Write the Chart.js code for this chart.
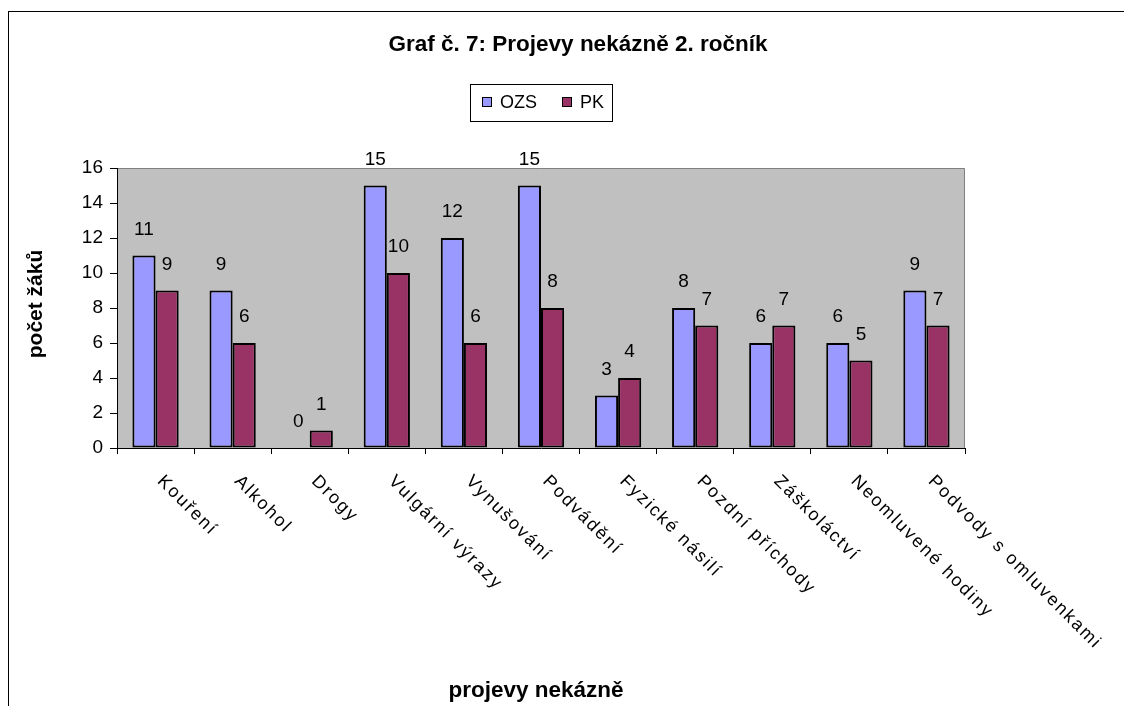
<!DOCTYPE html>
<html>
<head>
    <title>Graf č. 7: Projevy nekázně 2. ročník</title>
    <script src="https://cdn.jsdelivr.net/npm/chart.js"></script>
    <style>
        body {
            margin: 0;
            background: #ffffff;
        }
    </style>
</head>
<body>
    <canvas id="grafico" width="1124" height="706"></canvas>

    <script>
        // Kategorie a hodnoty
        const kategorie = ['Kouření', 'Alkohol', 'Drogy', 'Vulgární výrazy', 'Vynušování', 'Podvádění',
            'Fyzické násilí', 'Pozdní příchody', 'Záškoláctví', 'Neomluvené hodiny', 'Podvody s omluvenkami'];
        const hodnotyOZS = [11, 9, 0, 15, 12, 15, 3, 8, 6, 6, 9];
        const hodnotyPK = [9, 6, 1, 10, 6, 8, 4, 7, 7, 5, 7];
        const nazvySerii = ['OZS', 'PK'];
        const osaYMax = 16;
        const osaYKrok = 2;

        const titulek = 'Graf č. 7: Projevy nekázně 2. ročník';
        const titulekX = 'projevy nekázně';
        const titulekY = 'počet žáků';

        const barvy = ['#9999FF', '#993366'];
        const pismo = "'Liberation Sans', Arial, sans-serif";

        // Šedé pozadí plochy grafu, rámeček a texty kolem
        const pozadiPlugin = {
            id: 'pozadi',
            beforeDraw(chart) {
                const ctx = chart.ctx;
                const a = chart.chartArea;
                ctx.save();
                ctx.fillStyle = '#ffffff';
                ctx.fillRect(0, 0, chart.width, chart.height);
                // vnější rámeček
                ctx.strokeStyle = '#000';
                ctx.lineWidth = 1;
                ctx.strokeRect(8.5, 11.5, 1300, 900);
                ctx.fillStyle = '#C0C0C0';
                ctx.fillRect(a.left, a.top, a.right - a.left, a.bottom - a.top);
                ctx.strokeStyle = '#808080';
                ctx.beginPath();
                ctx.moveTo(a.left, a.top + 0.5);
                ctx.lineTo(a.right - 0.5, a.top + 0.5);
                ctx.lineTo(a.right - 0.5, a.bottom);
                ctx.stroke();
                ctx.restore();
            },
            afterDraw(chart) {
                const ctx = chart.ctx;
                const x = chart.scales.x;
                ctx.save();
                ctx.fillStyle = '#000';

                // titulek
                ctx.font = 'bold 22.5px ' + pismo;
                ctx.textAlign = 'center';
                ctx.textBaseline = 'alphabetic';
                ctx.fillText(titulek, 578, 51);

                // název osy X
                ctx.font = 'bold 22.5px ' + pismo;
                ctx.fillText(titulekX, 536, 697);

                // název osy Y
                ctx.save();
                ctx.translate(42, 304);
                ctx.rotate(-Math.PI / 2);
                ctx.font = 'bold 21px ' + pismo;
                ctx.fillText(titulekY, 0, 0);
                ctx.restore();

                // legenda
                ctx.strokeStyle = '#000';
                ctx.lineWidth = 1;
                ctx.strokeRect(470.5, 84.5, 142, 37);
                const legX = [482, 562];
                ctx.font = '18px ' + pismo;
                ctx.textAlign = 'left';
                chart.data.datasets.forEach((ds, i) => {
                    ctx.fillStyle = ds.backgroundColor;
                    ctx.fillRect(legX[i], 97, 10, 10);
                    ctx.strokeRect(legX[i] + 0.5, 97.5, 9, 9);
                    ctx.fillStyle = '#000';
                    ctx.fillText(ds.label, legX[i] + 18, 108);
                });

                // popisky kategorií otočené o 45°
                ctx.font = '18px ' + pismo;
                ctx.letterSpacing = '2px';
                kategorie.forEach((k, i) => {
                    const px = x.getPixelForTick(i);
                    ctx.save();
                    ctx.translate(px + 1, 482);
                    ctx.rotate(Math.PI / 4);
                    ctx.fillText(k, 0, 0);
                    ctx.restore();
                });
                ctx.restore();
            },
            afterDatasetsDraw(chart) {
                // hodnoty nad sloupci
                const ctx = chart.ctx;
                ctx.save();
                ctx.font = '19px ' + pismo;
                ctx.fillStyle = '#000';
                ctx.textAlign = 'center';
                ctx.textBaseline = 'middle';
                chart.data.datasets.forEach((ds, i) => {
                    chart.getDatasetMeta(i).data.forEach((bar, j) => {
                        ctx.fillText(ds.data[j], bar.x, bar.y - 26);
                    });
                });
                ctx.restore();
            }
        };

        const ctx = document.getElementById('grafico').getContext('2d');
        const grafico = new Chart(ctx, {
            type: 'bar',
            data: {
                labels: kategorie,
                datasets: [{
                    label: nazvySerii[0],
                    data: hodnotyOZS,
                    backgroundColor: barvy[0],
                    borderColor: '#000',
                    borderWidth: 2,
                    borderSkipped: false
                }, {
                    label: nazvySerii[1],
                    data: hodnotyPK,
                    backgroundColor: barvy[1],
                    borderColor: '#000',
                    borderWidth: 2,
                    borderSkipped: false
                }]
            },
            options: {
                responsive: false,
                animation: false,
                layout: {
                    padding: { left: 0, top: 168, right: 159, bottom: 0 }
                },
                datasets: {
                    bar: { categoryPercentage: 0.6, barPercentage: 1.0 }
                },
                plugins: {
                    legend: { display: false },
                    title: { display: false },
                    tooltip: { enabled: false }
                },
                scales: {
                    x: {
                        afterFit(scale) { scale.height = 258; },
                        grid: {
                            offset: true,
                            drawOnChartArea: false,
                            tickLength: 6,
                            color: '#000'
                        },
                        border: { color: '#000' },
                        ticks: { display: false }
                    },
                    y: {
                        min: 0,
                        max: osaYMax,
                        afterFit(scale) { scale.width = 117; },
                        grid: {
                            drawOnChartArea: false,
                            tickLength: 7,
                            color: '#000'
                        },
                        border: { color: '#000' },
                        ticks: {
                            stepSize: osaYKrok,
                            padding: 7,
                            color: '#000',
                            font: { family: pismo, size: 19 }
                        }
                    }
                }
            },
            plugins: [pozadiPlugin]
        });
    </script>
</body>
</html>
